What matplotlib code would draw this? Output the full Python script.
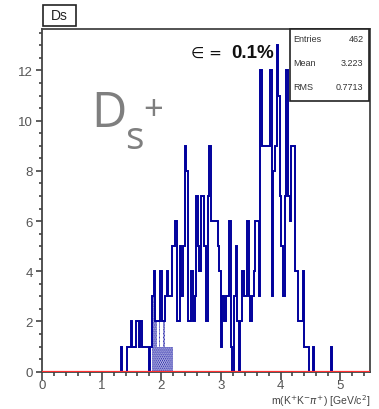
import numpy as np
import matplotlib
matplotlib.use("Agg")
import matplotlib.pyplot as plt
from matplotlib.patches import Rectangle
from matplotlib.ticker import MultipleLocator

# histogram definition: 200 bins on [0, 5.5]
nbins = 200
xmin, xmax = 0.0, 5.5

# bin contents, starting at bin 48
first_bin = 48
counts = [1, 0, 0, 0, 1, 1, 2, 1, 1, 2, 2, 1, 2, 1, 1, 1, 1, 0, 1,
          3, 4, 2, 2, 2, 4, 2, 2, 3, 4, 3, 3, 5, 5,
          6, 2, 2, 5, 3, 5, 9, 8, 2, 2, 4, 2, 3, 7, 5, 4, 7, 7, 5, 2,
          7, 9, 6, 6, 6, 6, 5, 4, 1, 3, 2, 3, 3, 6, 1, 0, 3, 5, 2, 0,
          2, 4, 3, 3, 6, 3, 2, 3, 4, 6, 6, 3, 12, 9, 9, 9, 9, 9, 12, 3,
          8, 9, 13, 11, 7, 5, 3, 7, 12, 7, 6, 9, 9, 4, 4, 2, 2, 2, 4, 1,
          1, 1, 0, 0, 1, 0, 0, 0, 0, 0, 0, 0, 0, 0, 0, 1]

# dotted (selected) region
hatch_first_bin = 67
hatch_counts = [3, 3, 2, 1, 2, 1, 1, 2, 1, 1, 1, 1, 1]

stats_labels = ["Entries", "Mean", "RMS"]
stats_values = ["462", "3.223", "0.7713"]

xlabel = r"m(K$^{+}$K$^{-}\pi^{+}$) [GeV/c$^{2}$]"
hist_title = "Ds"

BLUE = "#00009c"
W, H = 379, 410


def fx(px):
    return px / W


def fy(py):
    return 1 - py / H


def make_plot():
    plt.rcParams['font.family'] = ['Liberation Sans', 'DejaVu Sans']
    plt.rcParams['hatch.linewidth'] = 1.1
    fig = plt.figure(figsize=(W / 100, H / 100), dpi=100)
    ax = fig.add_axes([fx(42.1), fy(372.7), fx(370) - fx(42.1), fy(30) - fy(372.7)])

    edges = np.linspace(xmin, xmax, nbins + 1)
    full = np.zeros(nbins)
    full[first_bin:first_bin + len(counts)] = counts
    hfull = np.zeros(nbins)
    hfull[hatch_first_bin:hatch_first_bin + len(hatch_counts)] = hatch_counts

    centers = 0.5 * (edges[:-1] + edges[1:])
    width = edges[1] - edges[0]
    ax.bar(centers, hfull, width=width, facecolor="none", edgecolor=BLUE,
           hatch="........", linewidth=0, zorder=2)
    ax.stairs(full, edges, color=BLUE, linewidth=1.4, zorder=3)
    ax.axhline(0, color="#ff3030", linewidth=1.6, zorder=4)

    ax.set_xlim(xmin, xmax)
    ax.set_ylim(0, 13.65)
    ax.set_xticks(range(0, 6))
    ax.set_yticks(range(0, 13, 2))
    ax.xaxis.set_minor_locator(MultipleLocator(0.2))
    ax.yaxis.set_minor_locator(MultipleLocator(0.5))
    ax.tick_params(which="both", direction="out", colors="#333333",
                   labelsize=9.5, labelcolor="#555555", width=1.1)
    ax.tick_params(axis="x", which="major", length=5.5, pad=0)
    ax.tick_params(axis="x", which="minor", length=3)
    ax.tick_params(axis="y", which="major", length=4.5, pad=2)
    ax.tick_params(axis="y", which="minor", length=2.5)
    for s in ax.spines.values():
        s.set_color("#444444")
        s.set_linewidth(1.3)

    fig.text(fx(370), fy(401), xlabel, ha="right", va="center",
             fontsize=7.5, color="#444444")

    # title box
    fig.add_artist(Rectangle((fx(43), fy(27)), fx(76) - fx(43), fy(6) - fy(27),
                             transform=fig.transFigure, facecolor="white",
                             edgecolor="#222222", linewidth=1.2))
    fig.text(fx(59.5), fy(16.5), hist_title, ha="center", va="center",
             fontsize=10, color="#222222")

    # stats box
    fig.add_artist(Rectangle((fx(290), fy(101.7)), fx(369.3) - fx(290),
                             fy(30) - fy(101.7), transform=fig.transFigure,
                             facecolor="white", edgecolor="#222222",
                             linewidth=1.2, zorder=5))
    for i, (lab, val) in enumerate(zip(stats_labels, stats_values)):
        yy = fy(39 + 24.5 * i)
        fig.text(fx(293), yy, lab, ha="left", va="center", fontsize=6.5,
                 color="#333333", zorder=6)
        fig.text(fx(363.5), yy, val, ha="right", va="center", fontsize=6.5,
                 color="#333333", zorder=6)

    # efficiency label
    fig.text(fx(191), fy(53), "\u2208 =", ha="left", va="center",
             fontsize=11, color="#111111", family=['DejaVu Sans'])
    fig.text(fx(231), fy(53), "0.1%", ha="left", va="center",
             fontsize=13.5, fontweight="bold", color="#111111", zorder=7)

    # overlaid particle label
    fig.text(fx(91), fy(114), "D", ha="left", va="center", fontsize=35,
             color="#7f7f7f", family=['Open Sans', 'DejaVu Sans'])
    fig.text(fx(125), fy(139), "s", ha="left", va="center", fontsize=28,
             color="#7f7f7f", family=['Open Sans', 'DejaVu Sans'])
    fig.text(fx(143), fy(111), "+", ha="left", va="center", fontsize=25,
             color="#7f7f7f", family=['Open Sans', 'DejaVu Sans'])

    fig.savefig("out.png", dpi=100)


def main():
    make_plot()


if __name__ == "__main__":
    main()
